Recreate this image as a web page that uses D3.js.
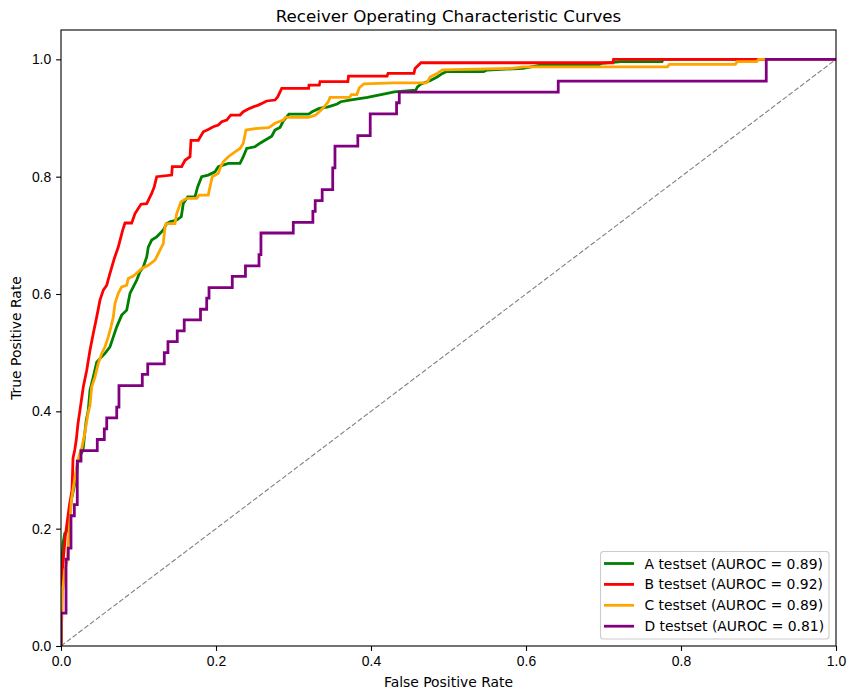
<!DOCTYPE html>
<html>
<head>
<meta charset="utf-8">
<script src="https://cdn.jsdelivr.net/npm/d3@7"></script>
<style>
  body { margin: 0; background: #fff; }
  svg { font-family: "DejaVu Sans", sans-serif; }
  .axis path, .axis line { stroke: #000; stroke-width: 1.1; }
  .axis text { font-size: 13.9px; fill: #000; }
</style>
</head>
<body>
<div id="chart"></div>
<script>
// ROC vertices (fpr, tpr)
const fprA = [0, 0.001, 0.0026, 0.0048, 0.009, 0.0133, 0.0197, 0.0219, 0.0284, 0.0306, 0.0326, 0.0352, 0.0374, 0.0417, 0.0461, 0.0525, 0.0568, 0.0632, 0.0675, 0.0719, 0.0783, 0.0848, 0.089, 0.0977, 0.1019, 0.1062, 0.1106, 0.1126, 0.117, 0.1235, 0.1277, 0.132, 0.1364, 0.1406, 0.1493, 0.1552, 0.1578, 0.1635, 0.1729, 0.1764, 0.1815, 0.19, 0.1987, 0.203, 0.2159, 0.231, 0.2352, 0.2396, 0.2503, 0.2568, 0.2632, 0.2719, 0.2761, 0.2826, 0.2863, 0.2941, 0.3195, 0.324, 0.3333, 0.3448, 0.3563, 0.3609, 0.3724, 0.3955, 0.4208, 0.4301, 0.4577, 0.46, 0.4646, 0.4761, 0.4853, 0.4923, 0.4969, 0.5453, 0.5498, 0.596, 0.619, 0.6928, 0.6973, 0.7226, 0.7755, 0.7768, 1];
const tprA = [0, 0.14, 0.175, 0.1917, 0.197, 0.2485, 0.288, 0.3167, 0.334, 0.362, 0.385, 0.402, 0.436, 0.4587, 0.484, 0.493, 0.4987, 0.51, 0.527, 0.544, 0.564, 0.5725, 0.601, 0.6237, 0.638, 0.646, 0.663, 0.680, 0.692, 0.6975, 0.703, 0.709, 0.72, 0.723, 0.726, 0.7316, 0.7544, 0.7657, 0.7657, 0.783, 0.80, 0.8027, 0.8083, 0.817, 0.8226, 0.8226, 0.834, 0.848, 0.851, 0.857, 0.862, 0.869, 0.8795, 0.884, 0.8936, 0.9067, 0.9067, 0.9107, 0.9164, 0.919, 0.9238, 0.9277, 0.9306, 0.935, 0.942, 0.9447, 0.9476, 0.953, 0.958, 0.9636, 0.970, 0.976, 0.979, 0.979, 0.9817, 0.9846, 0.9903, 0.9903, 0.993, 0.996, 0.996, 1.0, 1.0];

const fprB = [0, 0.001, 0.0017, 0.0048, 0.0055, 0.0077, 0.0112, 0.0142, 0.0155, 0.0177, 0.0197, 0.0219, 0.0245, 0.0288, 0.0332, 0.0374, 0.0417, 0.0461, 0.0503, 0.0546, 0.059, 0.0632, 0.0688, 0.0739, 0.0796, 0.0826, 0.0912, 0.0955, 0.1032, 0.1106, 0.117, 0.1204, 0.1235, 0.1428, 0.1436, 0.1557, 0.16, 0.1665, 0.1677, 0.1772, 0.1836, 0.19, 0.1965, 0.203, 0.2074, 0.2138, 0.219, 0.231, 0.2352, 0.2417, 0.2481, 0.2546, 0.261, 0.2654, 0.2761, 0.2796, 0.2848, 0.3195, 0.32, 0.3333, 0.3342, 0.3702, 0.371, 0.4208, 0.422, 0.4554, 0.4568, 0.4645, 0.7121, 0.713, 1];
const tprB = [0, 0.05, 0.129, 0.175, 0.186, 0.209, 0.243, 0.2655, 0.32, 0.334, 0.351, 0.379, 0.402, 0.442, 0.470, 0.504, 0.533, 0.561, 0.5895, 0.6066, 0.615, 0.635, 0.6606, 0.680, 0.709, 0.721, 0.721, 0.737, 0.753, 0.754, 0.7715, 0.783, 0.80, 0.8027, 0.817, 0.817, 0.828, 0.834, 0.862, 0.862, 0.8765, 0.8806, 0.885, 0.888, 0.8936, 0.8965, 0.905, 0.905, 0.9107, 0.9153, 0.919, 0.922, 0.926, 0.929, 0.9306, 0.936, 0.9506, 0.9506, 0.956, 0.956, 0.962, 0.962, 0.9715, 0.9715, 0.976, 0.976, 0.9846, 0.9942, 0.9942, 1.0, 1.0];

const fprC = [0, 0.0006, 0.0013, 0.0026, 0.0048, 0.0081, 0.009, 0.0125, 0.0133, 0.0168, 0.021, 0.0241, 0.0271, 0.0306, 0.0348, 0.0374, 0.0396, 0.0439, 0.0481, 0.0525, 0.0568, 0.061, 0.0645, 0.0675, 0.0697, 0.0739, 0.0783, 0.0848, 0.0868, 0.0933, 0.0997, 0.1041, 0.1126, 0.1213, 0.1277, 0.132, 0.1342, 0.1355, 0.1471, 0.1493, 0.1548, 0.1622, 0.1751, 0.1781, 0.19, 0.1923, 0.1952, 0.203, 0.2061, 0.2094, 0.2159, 0.2245, 0.231, 0.2352, 0.2387, 0.2503, 0.2675, 0.2697, 0.2761, 0.2868, 0.2895, 0.3195, 0.3286, 0.3333, 0.3379, 0.3448, 0.3471, 0.3724, 0.3747, 0.3817, 0.3849, 0.3908, 0.4301, 0.4715, 0.4735, 0.4761, 0.4853, 0.4923, 0.5821, 0.596, 0.7826, 0.7849, 0.8702, 0.8724, 0.8978, 0.9001, 1];
const tprC = [0, 0.061, 0.1, 0.1, 0.129, 0.146, 0.169, 0.2314, 0.2485, 0.277, 0.311, 0.328, 0.339, 0.362, 0.396, 0.41, 0.4416, 0.4587, 0.4816, 0.4987, 0.51, 0.527, 0.544, 0.561, 0.584, 0.601, 0.612, 0.615, 0.6265, 0.6305, 0.638, 0.6436, 0.649, 0.6577, 0.6748, 0.686, 0.7145, 0.72, 0.72, 0.737, 0.757, 0.763, 0.763, 0.7686, 0.7686, 0.783, 0.80, 0.8056, 0.817, 0.8254, 0.834, 0.8424, 0.848, 0.857, 0.8795, 0.882, 0.8834, 0.885, 0.891, 0.8965, 0.901, 0.901, 0.905, 0.9107, 0.9164, 0.9277, 0.935, 0.935, 0.940, 0.940, 0.9516, 0.958, 0.960, 0.960, 0.963, 0.970, 0.976, 0.9819, 0.9846, 0.987, 0.987, 0.9915, 0.9915, 0.996, 0.996, 1.0, 1.0];

// D is a coarse staircase: each point is where the curve steps up
const fprD = [0, 0, 0.0065, 0.0094, 0.0129, 0.0172, 0.021, 0.0258, 0.0468, 0.0559, 0.059, 0.0719, 0.0748, 0.1049, 0.1119, 0.1333, 0.138, 0.150, 0.159, 0.180, 0.188, 0.191, 0.221, 0.238, 0.2555, 0.258, 0.2997, 0.325, 0.328, 0.337, 0.3506, 0.3535, 0.383, 0.399, 0.433, 0.4365, 0.6416, 0.910, 1.0];
const tprD = [0, 0.056, 0.148, 0.167, 0.222, 0.241, 0.315, 0.333, 0.352, 0.370, 0.389, 0.407, 0.444, 0.463, 0.481, 0.500, 0.519, 0.537, 0.556, 0.574, 0.593, 0.611, 0.630, 0.648, 0.667, 0.704, 0.722, 0.741, 0.759, 0.778, 0.815, 0.852, 0.870, 0.907, 0.926, 0.944, 0.963, 1.0, 1.0];

const seriesNames = ['A testset', 'B testset', 'C testset', 'D testset'];
const aurocs = [0.89, 0.92, 0.89, 0.81];
const xTicks = [0, 0.2, 0.4, 0.6, 0.8, 1.0];
const yTicks = [0, 0.2, 0.4, 0.6, 0.8, 1.0];

const colors = ['green', 'red', 'orange', 'purple'];

const W = 857, H = 699;
const margin = { left: 61, top: 30, right: 21, bottom: 53 };
const plotW = W - margin.left - margin.right;
const plotH = H - margin.top - margin.bottom;

const svg = d3.select('#chart')
  .append('svg')
  .attr('width', W)
  .attr('height', H);

const x = d3.scaleLinear().domain([0, 1]).range([margin.left, margin.left + plotW]);
const y = d3.scaleLinear().domain([0, 1.05]).range([margin.top + plotH, margin.top]);

svg.append('clipPath').attr('id', 'plot-clip')
  .append('rect')
  .attr('x', margin.left).attr('y', margin.top)
  .attr('width', plotW).attr('height', plotH);

const g = svg.append('g').attr('clip-path', 'url(#plot-clip)');

// chance diagonal
g.append('path')
  .datum([[0, 0], [1, 1]])
  .attr('d', d3.line().x(d => x(d[0])).y(d => y(d[1])))
  .attr('fill', 'none')
  .attr('stroke', '#808080')
  .attr('stroke-width', 1.1)
  .attr('stroke-dasharray', '5.1,2.2');

const series = [
  { pts: d3.zip(fprA, tprA), curve: d3.curveLinear },
  { pts: d3.zip(fprB, tprB), curve: d3.curveLinear },
  { pts: d3.zip(fprC, tprC), curve: d3.curveLinear },
  { pts: d3.zip(fprD, tprD), curve: d3.curveStepAfter }
];

series.forEach((s, i) => {
  g.append('path')
    .datum(s.pts)
    .attr('d', d3.line().x(d => x(d[0])).y(d => y(d[1])).curve(s.curve))
    .attr('fill', 'none')
    .attr('stroke', colors[i])
    .attr('stroke-width', 2.78)
    .attr('stroke-linejoin', 'miter')
    .attr('stroke-linecap', 'butt');
});

// axes
svg.append('g')
  .attr('class', 'axis')
  .attr('transform', `translate(0,${margin.top + plotH})`)
  .call(d3.axisBottom(x).tickValues(xTicks).tickFormat(d3.format('.1f')).tickSize(4.9).tickPadding(5.6).tickSizeOuter(0));

svg.append('g')
  .attr('class', 'axis')
  .attr('transform', `translate(${margin.left},0)`)
  .call(d3.axisLeft(y).tickValues(yTicks).tickFormat(d3.format('.1f')).tickSize(4.9).tickPadding(4.9).tickSizeOuter(0));

svg.selectAll('.axis .domain').remove();

// frame
svg.append('rect')
  .attr('x', margin.left).attr('y', margin.top)
  .attr('width', plotW).attr('height', plotH)
  .attr('fill', 'none')
  .attr('stroke', '#000')
  .attr('stroke-width', 1.1);

svg.append('text')
  .attr('x', margin.left + plotW / 2)
  .attr('y', 22)
  .attr('text-anchor', 'middle')
  .attr('font-size', 16.7)
  .text('Receiver Operating Characteristic Curves');

svg.append('text')
  .attr('x', margin.left + plotW / 2)
  .attr('y', 687)
  .attr('text-anchor', 'middle')
  .attr('font-size', 13.9)
  .text('False Positive Rate');

svg.append('text')
  .attr('transform', `translate(21,${margin.top + plotH / 2}) rotate(-90)`)
  .attr('text-anchor', 'middle')
  .attr('font-size', 13.9)
  .text('True Positive Rate');

// legend, lower right
const legend = svg.append('g').attr('transform', 'translate(600.5,551.5)');
legend.append('rect')
  .attr('width', 228.5)
  .attr('height', 87.5)
  .attr('rx', 3)
  .attr('fill', '#fff')
  .attr('fill-opacity', 0.8)
  .attr('stroke', '#cccccc')
  .attr('stroke-width', 1.1);

seriesNames.forEach((name, i) => {
  const row = legend.append('g').attr('transform', `translate(0,${12 + i * 20.9})`);
  row.append('line')
    .attr('x1', 3.5).attr('x2', 33.5)
    .attr('stroke', colors[i])
    .attr('stroke-width', 2.78);
  row.append('text')
    .attr('x', 44)
    .attr('dy', '0.36em')
    .attr('font-size', 13.9)
    .text(`${name} (AUROC = ${aurocs[i].toFixed(2)})`);
});
</script>
</body>
</html>
